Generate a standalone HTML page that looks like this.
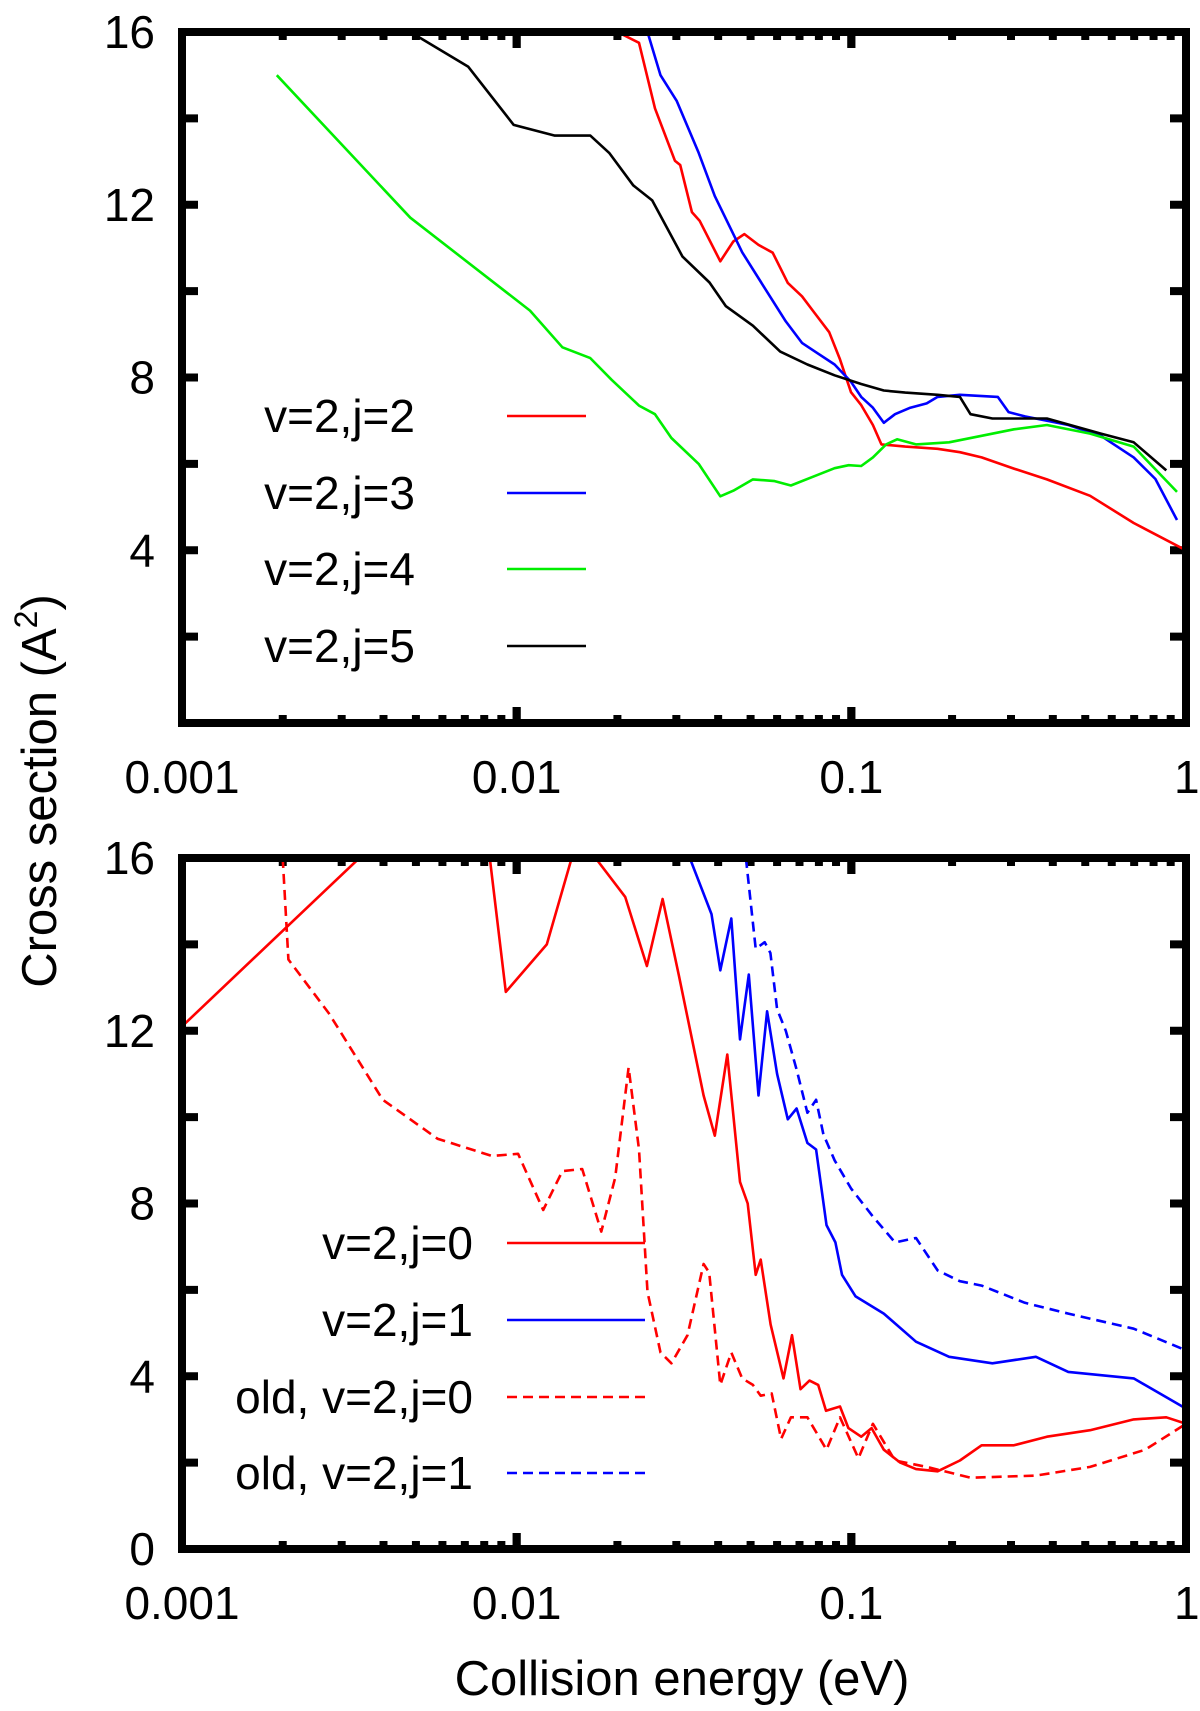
<!DOCTYPE html>
<html><head><meta charset="utf-8"><style>
html,body{margin:0;padding:0;background:#fff;}
svg{display:block;font-family:"Liberation Sans",sans-serif;}
</style></head><body>
<svg id="chart" width="1200" height="1711" viewBox="0 0 1200 1711">
<g id="top"></g>
<g id="bot"></g>
<text x="682" y="1695" font-size="49" text-anchor="middle">Collision energy (eV)</text>
<text transform="translate(56,791) rotate(-90)" font-size="49" text-anchor="middle">Cross section (A<tspan font-size="32" dy="-19">2</tspan><tspan dy="19">)</tspan></text>
</svg>
<script>
// ---- data ----
const xTicks=[0.001,0.01,0.1,1];
const xTickLabels=["0.001","0.01","0.1","1"];
const topYTicks=[4,8,12,16];
const botYTicks=[0,4,8,12,16];

const j2E=[0.0200,0.0232,0.0259,0.0297,0.0308,0.0334,0.0352,0.0406,0.0444,0.0479,0.0528,0.0582,0.0646,0.0712,0.0767,0.0859,0.0925,0.0998,0.107,0.116,0.123,0.145,0.181,0.211,0.245,0.306,0.384,0.517,0.698,1.0];
const j2V=[16,15.75,14.23,13.02,12.92,11.83,11.63,10.69,11.15,11.32,11.07,10.89,10.19,9.88,9.55,9.05,8.42,7.66,7.36,6.9,6.45,6.4,6.35,6.27,6.15,5.89,5.64,5.26,4.63,4.0];
const j3E=[0.0246,0.0269,0.0301,0.035,0.0391,0.0472,0.0548,0.0637,0.0712,0.0796,0.0891,0.0998,0.107,0.116,0.125,0.135,0.150,0.168,0.181,0.211,0.274,0.295,0.330,0.445,0.557,0.698,0.810,0.94];
const j3V=[16,15.0,14.4,13.2,12.2,10.9,10.1,9.3,8.8,8.55,8.3,7.9,7.55,7.3,6.95,7.15,7.3,7.4,7.55,7.6,7.55,7.2,7.1,6.9,6.65,6.15,5.65,4.7];
const j4E=[0.00192,0.00481,0.01096,0.0137,0.0166,0.0192,0.0232,0.0259,0.029,0.035,0.0406,0.0444,0.0508,0.059,0.066,0.0767,0.0891,0.0982,0.107,0.116,0.127,0.137,0.156,0.196,0.245,0.306,0.384,0.517,0.698,0.94];
const j4V=[15.0,11.7,9.55,8.7,8.45,7.95,7.35,7.15,6.6,6.0,5.25,5.38,5.64,5.6,5.5,5.7,5.9,5.97,5.95,6.15,6.45,6.57,6.45,6.5,6.65,6.8,6.9,6.7,6.4,5.35];
const j5E=[0.00481,0.00716,0.0098,0.013,0.0166,0.0189,0.0223,0.0254,0.0313,0.0377,0.0422,0.0508,0.0613,0.0739,0.0891,0.107,0.125,0.145,0.181,0.211,0.227,0.264,0.384,0.557,0.698,0.873];
const j5V=[16,15.2,13.85,13.6,13.6,13.2,12.45,12.1,10.8,10.2,9.65,9.2,8.6,8.3,8.05,7.85,7.7,7.65,7.6,7.55,7.15,7.05,7.05,6.7,6.5,5.85];

const j0E=[0.001,0.00339,0.005,0.00831,0.00928,0.0123,0.0146,0.0172,0.0211,0.0245,0.0273,0.0305,0.0362,0.0391,0.0426,0.0465,0.049,0.0518,0.0536,0.0574,0.0627,0.0665,0.0705,0.075,0.0796,0.084,0.0925,0.098,0.107,0.115,0.125,0.14,0.156,0.181,0.211,0.245,0.306,0.384,0.517,0.698,0.873,1.0];
const j0V=[12.1,16,20,16,12.9,14.0,16,16,15.1,13.5,15.05,13.3,10.5,9.57,11.45,8.5,8.0,6.35,6.7,5.2,3.95,4.95,3.7,3.9,3.8,3.2,3.3,2.8,2.6,2.8,2.3,2.0,1.85,1.8,2.05,2.4,2.4,2.6,2.75,3.0,3.05,2.9];
const j1E=[0.0329,0.0382,0.0406,0.0438,0.0465,0.0494,0.0528,0.056,0.06,0.0646,0.0686,0.0739,0.0785,0.0843,0.0896,0.0938,0.103,0.125,0.156,0.196,0.264,0.356,0.445,0.698,1.0];
const j1V=[16,14.7,13.4,14.6,11.8,13.3,10.5,12.45,11.0,9.95,10.2,9.4,9.25,7.5,7.1,6.35,5.85,5.45,4.8,4.45,4.3,4.45,4.1,3.95,3.25];
const o1E=[0.0484,0.0518,0.0551,0.0573,0.06,0.0637,0.0686,0.0739,0.0785,0.0825,0.0891,0.0998,0.116,0.135,0.156,0.181,0.211,0.245,0.330,0.445,0.698,1.0];
const o1V=[16,13.9,14.05,13.8,12.5,12.0,11.1,10.1,10.4,9.6,9.0,8.35,7.7,7.1,7.2,6.45,6.2,6.1,5.7,5.45,5.1,4.6];
const o0E=[0.0020,0.00208,0.00275,0.00398,0.0058,0.00844,0.0101,0.012,0.0137,0.0157,0.0179,0.0197,0.0216,0.0232,0.0246,0.0269,0.029,0.0324,0.0362,0.0376,0.0406,0.0438,0.0472,0.0508,0.0536,0.0578,0.0617,0.066,0.0739,0.0843,0.0925,0.105,0.116,0.135,0.168,0.227,0.356,0.517,0.755,1.0];
const o0V=[16,13.65,12.4,10.4,9.5,9.1,9.15,7.85,8.75,8.8,7.35,8.6,11.15,9.25,5.95,4.55,4.3,4.95,6.6,6.4,3.8,4.55,3.95,3.8,3.55,3.6,2.55,3.05,3.05,2.3,3.05,2.1,2.9,2.05,1.9,1.65,1.7,1.9,2.3,2.9];

const NS="http://www.w3.org/2000/svg";
const L=182,R=1186;
function xs(e){return L+(Math.log10(e)+3)/3*(R-L);}
function mk(tag,attrs,parent){const el=document.createElementNS(NS,tag);for(const k in attrs)el.setAttribute(k,attrs[k]);parent.appendChild(el);return el;}

function panel(g,T,B,yTicks,clipId,series,legEnd,legLine,legY){
  const ys=v=>B-(v/16)*(B-T);
  const defs=mk('defs',{},g);
  const cp=mk('clipPath',{id:clipId},defs);
  mk('rect',{x:L,y:T,width:R-L,height:B-T},cp);
  for(let v=0;v<=16;v+=2){
    const len=16;
    const t1=mk('line',{x1:L,y1:ys(v),x2:L+len,y2:ys(v),stroke:'#000','stroke-width':8},g);
    
    
    const t2=mk('line',{x1:R-len,y1:ys(v),x2:R,y2:ys(v),stroke:'#000','stroke-width':8},g);
    
    
  }
  for(let d=0;d<3;d++){
    for(let m=1;m<=10;m++){
      const e=Math.pow(10,-3+d)*m;
      const len=(m===1||m===10)?16:8;
      const x=xs(e);
      const a=mk('line',{x1:x,y1:B,x2:x,y2:B-len,stroke:'#000','stroke-width':8},g);
      
      
      const b=mk('line',{x1:x,y1:T,x2:x,y2:T+len,stroke:'#000','stroke-width':8},g);
      
      
    }
  }
  yTicks.forEach(v=>{
    const t=mk('text',{x:155,y:ys(v)+16,'font-size':46,'text-anchor':'end'},g);
    t.textContent=v;
    
    
  });
  xTicks.forEach((e,i)=>{
    let x=xs(e); let anchor='middle';
    if(i===xTicks.length-1){anchor='start';x=x-12;}
    const t=mk('text',{x:x,y:B+70,'font-size':46,'text-anchor':anchor},g);
    t.textContent=xTickLabels[i];
    
    
  });
  const cg=mk('g',{'clip-path':'url(#'+clipId+')'},g);
  series.forEach(s=>{
    const pts=s.E.map((e,i)=>xs(e).toFixed(1)+','+ys(s.V[i]).toFixed(1)).join(' ');
    const p=mk('polyline',{points:pts,fill:'none',stroke:s.c,'stroke-width':2.6,'stroke-linejoin':'round'},cg);
    if(s.dash)p.setAttribute('stroke-dasharray','10,6');
    
    
  });
  series.forEach((s,i)=>{
    const t=mk('text',{x:legEnd,y:legY[i]+16,'font-size':46,'text-anchor':'end'},g);
    t.textContent=s.label;
    
    
    const l=mk('line',{x1:legLine[0],y1:legY[i],x2:legLine[1],y2:legY[i],stroke:s.c,'stroke-width':2.6},g);
    if(s.dash)l.setAttribute('stroke-dasharray','10,6');
    
    
  });
  const f=mk('rect',{x:L,y:T,width:R-L,height:B-T,fill:'none',stroke:'#000','stroke-width':8},g);
  
  
}

panel(document.getElementById('top'),32,723,topYTicks,'c1',[
  {E:j2E,V:j2V,c:'#ff0000',label:'v=2,j=2',name:'line-v2-j2'},
  {E:j3E,V:j3V,c:'#0000ff',label:'v=2,j=3',name:'line-v2-j3'},
  {E:j4E,V:j4V,c:'#00ee00',label:'v=2,j=4',name:'line-v2-j4'},
  {E:j5E,V:j5V,c:'#000000',label:'v=2,j=5',name:'line-v2-j5'}
],415,[507,586],[416,493,569,646]);

panel(document.getElementById('bot'),858,1549,botYTicks,'c2',[
  {E:j0E,V:j0V,c:'#ff0000',label:'v=2,j=0',name:'line-v2-j0'},
  {E:j1E,V:j1V,c:'#0000ff',label:'v=2,j=1',name:'line-v2-j1'},
  {E:o0E,V:o0V,c:'#ff0000',dash:true,label:'old, v=2,j=0',name:'line-old-v2-j0'},
  {E:o1E,V:o1V,c:'#0000ff',dash:true,label:'old, v=2,j=1',name:'line-old-v2-j1'}
],473,[507,645],[1243,1320,1397,1473]);
</script>
</body></html>
